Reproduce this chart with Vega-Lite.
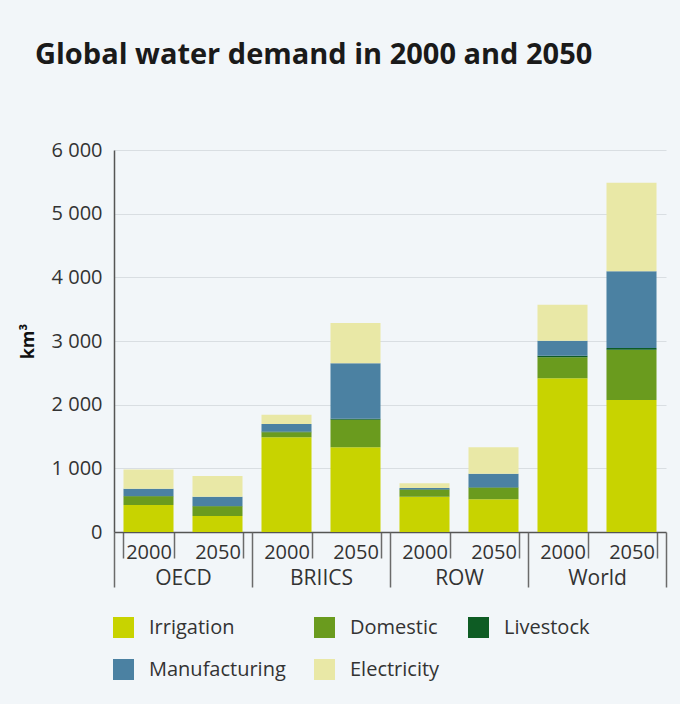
{
  "$schema": "https://vega.github.io/schema/vega-lite/v6.json",
  "width": 552,
  "height": 382,
  "autosize": {"type": "none"},
  "padding": {"left": 114, "top": 150, "right": 14, "bottom": 172},
  "background": "#f2f6f9",
  "config": {
    "font": "Open Sans",
    "view": {"stroke": null}
  },
  "title": {
    "text": "Global water demand in 2000 and 2050",
    "anchor": "start",
    "frame": "group",
    "dx": -79,
    "offset": 47,
    "baseline": "alphabetic",
    "fontSize": 29,
    "fontWeight": "bold",
    "color": "#1a1a1a"
  },
  "data": {
    "values": [
      {"region": "OECD", "bar": "OECD 2000", "use": "Irrigation", "value": 425},
      {"region": "OECD", "bar": "OECD 2000", "use": "Domestic", "value": 135},
      {"region": "OECD", "bar": "OECD 2000", "use": "Livestock", "value": 6},
      {"region": "OECD", "bar": "OECD 2000", "use": "Manufacturing", "value": 114},
      {"region": "OECD", "bar": "OECD 2000", "use": "Electricity", "value": 300},
      {"region": "OECD", "bar": "OECD 2050", "use": "Irrigation", "value": 250},
      {"region": "OECD", "bar": "OECD 2050", "use": "Domestic", "value": 153},
      {"region": "OECD", "bar": "OECD 2050", "use": "Livestock", "value": 6},
      {"region": "OECD", "bar": "OECD 2050", "use": "Manufacturing", "value": 146},
      {"region": "OECD", "bar": "OECD 2050", "use": "Electricity", "value": 325},
      {"region": "BRIICS", "bar": "BRIICS 2000", "use": "Irrigation", "value": 1490},
      {"region": "BRIICS", "bar": "BRIICS 2000", "use": "Domestic", "value": 78},
      {"region": "BRIICS", "bar": "BRIICS 2000", "use": "Livestock", "value": 10},
      {"region": "BRIICS", "bar": "BRIICS 2000", "use": "Manufacturing", "value": 120},
      {"region": "BRIICS", "bar": "BRIICS 2000", "use": "Electricity", "value": 142},
      {"region": "BRIICS", "bar": "BRIICS 2050", "use": "Irrigation", "value": 1330},
      {"region": "BRIICS", "bar": "BRIICS 2050", "use": "Domestic", "value": 435},
      {"region": "BRIICS", "bar": "BRIICS 2050", "use": "Livestock", "value": 12},
      {"region": "BRIICS", "bar": "BRIICS 2050", "use": "Manufacturing", "value": 875},
      {"region": "BRIICS", "bar": "BRIICS 2050", "use": "Electricity", "value": 630},
      {"region": "ROW", "bar": "ROW 2000", "use": "Irrigation", "value": 555},
      {"region": "ROW", "bar": "ROW 2000", "use": "Domestic", "value": 110},
      {"region": "ROW", "bar": "ROW 2000", "use": "Livestock", "value": 6},
      {"region": "ROW", "bar": "ROW 2000", "use": "Manufacturing", "value": 20},
      {"region": "ROW", "bar": "ROW 2000", "use": "Electricity", "value": 75},
      {"region": "ROW", "bar": "ROW 2050", "use": "Irrigation", "value": 515},
      {"region": "ROW", "bar": "ROW 2050", "use": "Domestic", "value": 180},
      {"region": "ROW", "bar": "ROW 2050", "use": "Livestock", "value": 8},
      {"region": "ROW", "bar": "ROW 2050", "use": "Manufacturing", "value": 210},
      {"region": "ROW", "bar": "ROW 2050", "use": "Electricity", "value": 420},
      {"region": "World", "bar": "World 2000", "use": "Irrigation", "value": 2415},
      {"region": "World", "bar": "World 2000", "use": "Domestic", "value": 330},
      {"region": "World", "bar": "World 2000", "use": "Livestock", "value": 25},
      {"region": "World", "bar": "World 2000", "use": "Manufacturing", "value": 233},
      {"region": "World", "bar": "World 2000", "use": "Electricity", "value": 565},
      {"region": "World", "bar": "World 2050", "use": "Irrigation", "value": 2075},
      {"region": "World", "bar": "World 2050", "use": "Domestic", "value": 787},
      {"region": "World", "bar": "World 2050", "use": "Livestock", "value": 28},
      {"region": "World", "bar": "World 2050", "use": "Manufacturing", "value": 1205},
      {"region": "World", "bar": "World 2050", "use": "Electricity", "value": 1390}
    ]
  },
  "layer": [
    {
      "mark": {"type": "bar"},
      "encoding": {
        "x": {
          "field": "bar",
          "type": "nominal",
          "sort": null,
          "scale": {"paddingInner": 0.275, "paddingOuter": 0.1375},
          "axis": {
            "orient": "bottom",
            "title": null,
            "labelExpr": "slice(datum.label, -4)",
            "labelAngle": 0,
            "labelFontSize": 20,
            "labelColor": "#333333",
            "labelPadding": -16,
            "tickBand": "extent",
            "tickSize": 26,
            "tickColor": "#6b6b6b",
            "tickWidth": 1.5,
            "domain": true,
            "domainColor": "#555555",
            "domainWidth": 1.5,
            "grid": false
          }
        },
        "y": {
          "field": "value",
          "type": "quantitative",
          "stack": "zero",
          "scale": {"domain": [0, 6000], "nice": false},
          "axis": {
            "values": [0, 1000, 2000, 3000, 4000, 5000, 6000],
            "labelExpr": "replace(format(datum.value, ','), ',', ' ')",
            "labelFontSize": 20,
            "labelColor": "#333333",
            "labelPadding": 12,
            "ticks": false,
            "domain": true,
            "domainColor": "#555555",
            "domainWidth": 1.5,
            "grid": true,
            "gridColor": "#d9dee2",
            "gridWidth": 1,
            "title": "km³",
            "titleFontSize": 18,
            "titleFontWeight": "bold",
            "titleColor": "#111111",
            "titlePadding": 14
          }
        },
        "order": {"field": "region"},
        "color": {
          "field": "use",
          "type": "nominal",
          "sort": ["Irrigation", "Domestic", "Livestock", "Manufacturing", "Electricity"],
          "scale": {
            "domain": ["Irrigation", "Domestic", "Livestock", "Manufacturing", "Electricity"],
            "range": ["#c8d300", "#6a9b1e", "#0e5c24", "#4b81a2", "#e9e8a6"]
          },
          "legend": {
            "orient": "none",
            "direction": "horizontal",
            "legendX": -1,
            "legendY": 467,
            "columns": 3,
            "title": null,
            "symbolType": "square",
            "symbolSize": 441,
            "symbolStrokeWidth": 0,
            "labelFontSize": 20,
            "labelColor": "#333333",
            "labelOffset": 15,
            "rowPadding": 21,
            "columnPadding": 28
          }
        }
      }
    },
    {
      "mark": {"type": "point", "opacity": 0},
      "encoding": {
        "x": {
          "field": "region",
          "type": "nominal",
          "sort": null,
          "scale": {"paddingInner": 0, "paddingOuter": 0},
          "axis": {
            "orient": "bottom",
            "title": null,
            "labelAngle": 0,
            "labelFontSize": 21,
            "labelColor": "#333333",
            "labelPadding": -20,
            "tickBand": "extent",
            "tickSize": 55,
            "tickColor": "#6b6b6b",
            "tickWidth": 1.5,
            "domain": false,
            "grid": false
          }
        }
      }
    }
  ],
  "resolve": {"scale": {"x": "independent"}, "axis": {"x": "independent"}}
}
